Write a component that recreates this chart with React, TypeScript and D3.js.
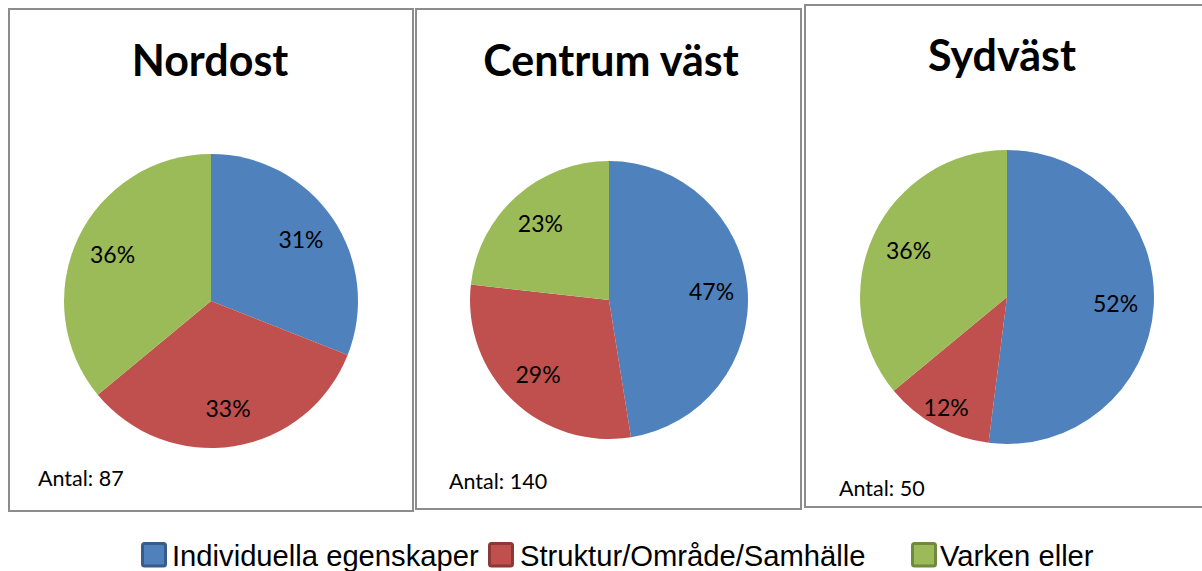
import React from "react";
import * as d3 from "d3";

const categories = ["Individuella egenskaper", "Struktur/Område/Samhälle", "Varken eller"];
const colors = ["#4F81BD", "#C0504D", "#9BBB59"];
const strokeColors = ["#385D8A", "#8C3836", "#71893F"];

const regions = ["Nordost", "Centrum väst", "Sydväst"];
const nordost = [31, 33, 36];
const centrumVast = [47, 29, 23];
const sydvast = [52, 12, 36];
const antal = [87, 140, 50];

const seriesValues = [nordost, centrumVast, sydvast];

// layout (not data)
const panels = [
  { x: 9, y: 9, w: 404, h: 502, cx: 211, cy: 301, r: 147, titleY: 76, antalX: 38, antalY: 486 },
  { x: 416, y: 9, w: 385, h: 500, cx: 609, cy: 300, r: 139, titleY: 76, antalX: 449, antalY: 489 },
  { x: 805, y: 5, w: 402, h: 502, cx: 1007, cy: 297, r: 147, titleY: 71, antalX: 839, antalY: 496 },
];
const titleX = [210, 611, 1002];

const legendItems = [
  { sx: 141, tx: 172 },
  { sx: 488, tx: 520 },
  { sx: 911, tx: 940 },
];

export default function App() {
  const pie = d3.pie<number>().sort(null).value((d) => d);
  return (
    <svg
      width={1202}
      height={571}
      style={{ position: "absolute", left: 0, top: 0, background: "#fff" }}
    >
      <rect x={0} y={0} width={1202} height={571} fill="#fff" />
      {panels.map((p, i) => {
        const arcs = pie(seriesValues[i]);
        const arc = d3.arc<d3.PieArcDatum<number>>().innerRadius(0).outerRadius(p.r);
        const total = d3.sum(seriesValues[i]);
        return (
          <g key={i}>
            <rect x={p.x} y={p.y} width={p.w} height={p.h} fill="#fff" stroke="#8c8c8c" strokeWidth={2} />
            <text
              x={titleX[i]}
              y={p.titleY}
              textAnchor="middle"
              fontFamily="Lato, 'Open Sans', sans-serif"
              fontWeight={700}
              fontSize={43}
              fill="#000"
            >
              {regions[i]}
            </text>
            <g transform={`translate(${p.cx},${p.cy})`}>
              {arcs.map((a, j) => (
                <path key={j} d={arc(a) || ""} fill={colors[j]} />
              ))}
              {arcs.map((a, j) => {
                const share = a.data / total;
                const frac = share < 0.2 ? 0.86 : 0.74;
                const la = d3.arc<d3.PieArcDatum<number>>().innerRadius(p.r * frac).outerRadius(p.r * frac);
                const [lx, ly] = la.centroid(a);
                return (
                  <text
                    key={"l" + j}
                    x={lx}
                    y={ly}
                    dy="0.36em"
                    textAnchor="middle"
                    fontFamily="Lato, 'Open Sans', sans-serif"
                    fontSize={23}
                    fill="#000"
                  >
                    {a.data}%
                  </text>
                );
              })}
            </g>
            <text
              x={p.antalX}
              y={p.antalY}
              fontFamily="Lato, 'Open Sans', sans-serif"
              fontSize={21.5}
              fill="#000"
            >
              {`Antal: ${antal[i]}`}
            </text>
          </g>
        );
      })}
      {categories.map((c, i) => (
        <g key={c}>
          <rect
            x={legendItems[i].sx + 1.5}
            y={543.5}
            width={23}
            height={22.5}
            rx={2}
            fill={colors[i]}
            stroke={strokeColors[i]}
            strokeWidth={3}
          />
          <text
            x={legendItems[i].tx}
            y={566}
            fontFamily="'Liberation Sans', Arial, sans-serif"
            fontSize={29.2}
            fill="#000"
          >
            {c}
          </text>
        </g>
      ))}
    </svg>
  );
}
